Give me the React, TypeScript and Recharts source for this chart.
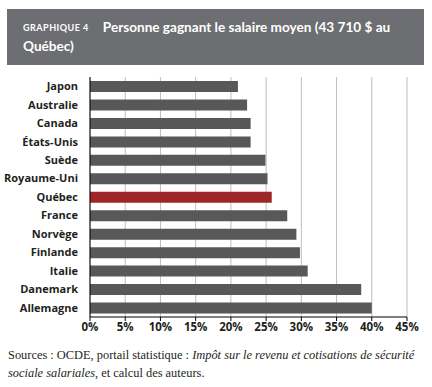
import { BarChart, Bar, XAxis, YAxis, CartesianGrid, Cell } from 'recharts'

const countries = [
  'Japon',
  'Australie',
  'Canada',
  'États-Unis',
  'Suède',
  'Royaume-Uni',
  'Québec',
  'France',
  'Norvège',
  'Finlande',
  'Italie',
  'Danemark',
  'Allemagne',
]
const rates = [21.0, 22.3, 22.8, 22.8, 24.9, 25.2, 25.8, 28.0, 29.3, 29.8, 30.9, 38.5, 40.0]
const xTicks = [0, 5, 10, 15, 20, 25, 30, 35, 40, 45]
const highlight = 'Québec'

const data = countries.map((country, i) => ({ country, rate: rates[i] }))

const labelFont = "'Open Sans', sans-serif"

export default function App() {
  return (
    <div style={{ position: 'absolute', left: 0, top: 0, width: 432, height: 387, background: '#fff' }}>
      <div
        style={{
          position: 'absolute',
          left: 7,
          top: 9,
          width: 417,
          height: 56,
          background: '#6d6e71',
          color: '#fff',
          fontFamily: "'Lato', sans-serif",
          fontWeight: 700,
        }}
      >
        <div style={{ position: 'absolute', left: 16, top: 9, fontSize: 13.6, lineHeight: '19px', width: 398 }}>
          <span style={{ fontSize: 9, letterSpacing: 0.5, marginRight: 14, verticalAlign: 1 }}>GRAPHIQUE 4</span>
          Personne gagnant le salaire moyen (43 710 $ au
          <br />
          Québec)
        </div>
      </div>

      <div style={{ position: 'absolute', left: 0, top: 0 }}>
        <BarChart
          width={432}
          height={387}
          data={data}
          layout="vertical"
          margin={{ top: 77, right: 25, bottom: 49, left: 0 }}
          barCategoryGap="40%"
        >
          <CartesianGrid horizontal={false} stroke="#bdbdbd" strokeWidth={1} />
          <XAxis
            type="number"
            domain={[0, 45]}
            ticks={xTicks}
            tickFormatter={(v) => `${v}%`}
            axisLine={{ stroke: '#000' }}
            tickLine={{ stroke: '#000' }}
            tickSize={4}
            height={21}
            tick={{ fontSize: 11.5, fontWeight: 700, fill: '#231f20', fontFamily: labelFont }}
          />
          <YAxis
            type="category"
            dataKey="country"
            width={90}
            axisLine={{ stroke: '#000' }}
            tickLine={false}
            tickMargin={6}
            tick={{ fontSize: 11, fontWeight: 700, fill: '#231f20', fontFamily: labelFont }}
          />
          <Bar dataKey="rate" barSize={11} isAnimationActive={false}>
            {data.map((d) => (
              <Cell key={d.country} fill={d.country === highlight ? '#9e2629' : '#58585a'} />
            ))}
          </Bar>
        </BarChart>
      </div>

      <div
        style={{
          position: 'absolute',
          left: 8,
          top: 346,
          width: 424,
          fontFamily: "'Liberation Serif', serif",
          fontSize: 12.4,
          lineHeight: '18px',
          color: '#231f20',
          whiteSpace: 'nowrap',
        }}
      >
        Sources : OCDE, portail statistique : <i>Impôt sur le revenu et cotisations de sécurité</i>
        <br />
        <i>sociale salariales</i>, et calcul des auteurs.
      </div>
    </div>
  )
}
